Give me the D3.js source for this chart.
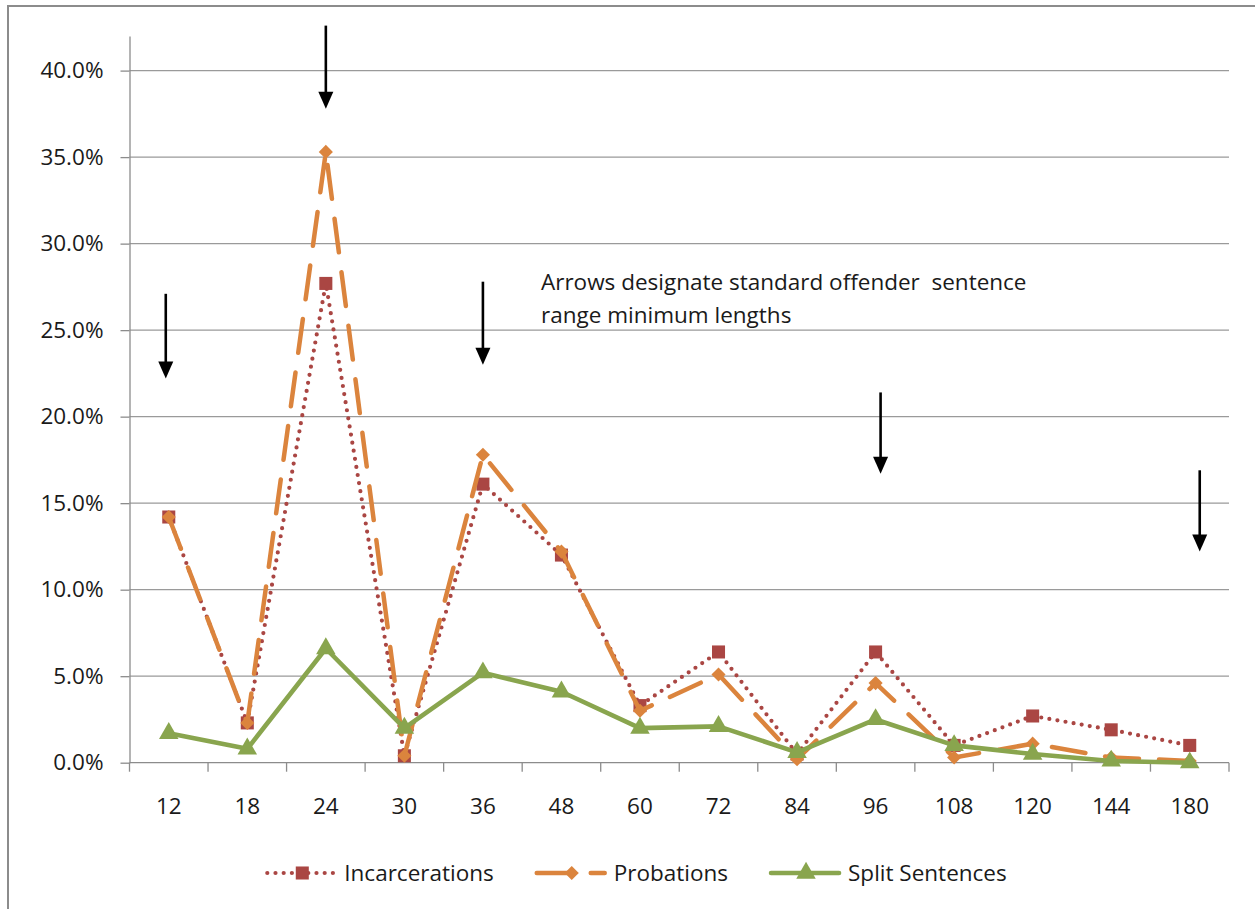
<!DOCTYPE html>
<html lang="en">
<head>
<meta charset="UTF-8">
<title>Sentence lengths</title>
<script src="https://d3js.org/d3.v7.min.js"></script>
<style>
  body { margin: 0; background: #fff; }
  text { font-family: "Open Sans", sans-serif; fill: #1a1a1a; }
</style>
</head>
<body>
<div id="chart"></div>
<script>
// months of the sentence
var months = ["12","18","24","30","36","48","60","72","84","96","108","120","144","180"];

// share of each kind of sentence
var incarcerations = [0.142,0.023,0.277,0.004,0.161,0.120,0.033,0.064,0.005,0.064,0.010,0.027,0.019,0.010];
var probations     = [0.142,0.023,0.353,0.004,0.178,0.122,0.030,0.051,0.002,0.046,0.003,0.011,0.003,0.001];
var splits         = [0.017,0.008,0.066,0.020,0.052,0.041,0.020,0.021,0.006,0.025,0.010,0.005,0.001,0.000];

var yTicks = [0,0.05,0.10,0.15,0.20,0.25,0.30,0.35,0.40];

// arrows marking standard range minimum lengths
var arrowCats = ["12","24","36","96","180"];
var arrowTop  = [0.271,0.426,0.278,0.214,0.169];
var arrowTip  = [0.222,0.378,0.230,0.167,0.122];
var arrowNudge = [-3,0,0,5,10];

var W = 1255, H = 909;
var plotL = 129.5, plotR = 1229, plotT = 36, plotB = 762.7;

var svg = d3.select("#chart").append("svg").attr("width", W).attr("height", H);

svg.append("rect").attr("x", 8).attr("y", 6).attr("width", 1300).attr("height", 1000)
  .attr("fill", "#fff").attr("stroke", "#8c8c8c").attr("stroke-width", 2);

var x = d3.scaleBand().domain(months).range([plotL, plotR]);
var y = d3.scaleLinear().domain([0, 0.42]).range([plotB, plotT]);
var cx = function(m) { return x(m) + x.bandwidth() / 2; };

// gridlines
svg.append("g").selectAll("line").data(yTicks.slice(1)).enter().append("line")
  .attr("x1", plotL).attr("x2", plotR)
  .attr("y1", function(d) { return y(d); }).attr("y2", function(d) { return y(d); })
  .attr("stroke", "#9a9a9a").attr("stroke-width", 1.3);

// y axis
var yAxis = svg.append("g").attr("transform", "translate(" + plotL + ",0)")
  .call(d3.axisLeft(y).tickValues(yTicks).tickFormat(d3.format(".1%")).tickSize(9).tickSizeOuter(0).tickPadding(17));
yAxis.selectAll("path, line").attr("stroke", "#8c8c8c").attr("stroke-width", 1.3);
yAxis.selectAll("text").attr("font-size", 22.5).attr("font-family", "Open Sans").attr("fill", "#1a1a1a");

// x axis
var xAxis = svg.append("g").attr("transform", "translate(0," + plotB + ")");
xAxis.append("line").attr("x1", plotL).attr("x2", plotR).attr("stroke", "#8c8c8c").attr("stroke-width", 1.3);
xAxis.selectAll(".tk").data(months.concat(["end"])).enter().append("line")
  .attr("class", "tk")
  .attr("x1", function(d, i) { return i < months.length ? x(d) : plotR; })
  .attr("x2", function(d, i) { return i < months.length ? x(d) : plotR; })
  .attr("y1", 0).attr("y2", 9)
  .attr("stroke", "#8c8c8c").attr("stroke-width", 1.3);
xAxis.selectAll("text").data(months).enter().append("text")
  .attr("x", function(d) { return cx(d); }).attr("y", 43)
  .attr("dy", "0.35em").attr("text-anchor", "middle").attr("font-size", 22.5)
  .text(function(d) { return d; });

// markers: square, diamond (rotated square), triangle
var square = d3.symbol().type(d3.symbolSquare).size(170)();
var diamond = d3.symbol().type(d3.symbolSquare).size(100)();
var triangle = d3.symbol().type(d3.symbolTriangle).size(165)();

var series = [
  { name: "Incarcerations", values: incarcerations, color: "#AA4643", width: 4.2, dash: "0 8.2", marker: square, rot: 0 },
  { name: "Probations", values: probations, color: "#DB843D", width: 4.5, dash: "34 20", marker: diamond, rot: 45 },
  { name: "Split Sentences", values: splits, color: "#89A54E", width: 4.6, dash: null, marker: triangle, rot: 0 }
];

var line = d3.line()
  .x(function(d, i) { return cx(months[i]); })
  .y(function(d) { return y(d); });

series.forEach(function(s) {
  var g = svg.append("g");
  g.append("path").datum(s.values)
    .attr("d", line).attr("fill", "none")
    .attr("stroke", s.color).attr("stroke-width", s.width)
    .attr("stroke-linecap", "round").attr("stroke-linejoin", "round")
    .attr("stroke-dasharray", s.dash);
  g.selectAll("path.m").data(s.values).enter().append("path")
    .attr("class", "m")
    .attr("d", s.marker)
    .attr("transform", function(d, i) { return "translate(" + cx(months[i]) + "," + y(d) + ") rotate(" + s.rot + ")"; })
    .attr("fill", s.color);
});

// arrows
var ag = svg.append("g");
arrowCats.forEach(function(m, i) {
  var ax = cx(m) + arrowNudge[i];
  var yt = y(arrowTop[i]), yp = y(arrowTip[i]);
  ag.append("line").attr("x1", ax).attr("x2", ax).attr("y1", yt).attr("y2", yp - 10)
    .attr("stroke", "#000").attr("stroke-width", 2.6);
  ag.append("path").attr("d", "M" + (ax - 7.5) + "," + (yp - 17) + "L" + (ax + 7.5) + "," + (yp - 17) + "L" + ax + "," + yp + "Z")
    .attr("fill", "#000");
});

// note
var note = svg.append("text").attr("x", 541).attr("y", 290).attr("font-size", 22.5);
note.append("tspan").attr("x", 541).text("Arrows designate standard offender\u00a0 sentence");
note.append("tspan").attr("x", 541).attr("dy", 33).text("range minimum lengths");

// legend
var lg = svg.append("g");
var cursor = 0;
series.forEach(function(s) {
  var it = lg.append("g");
  it.append("line").attr("x1", 0).attr("x2", 68)
    .attr("stroke", s.color).attr("stroke-width", s.width)
    .attr("stroke-linecap", "round").attr("stroke-dasharray", s.dash);
  it.append("path").attr("d", s.marker)
    .attr("transform", "translate(35,0) rotate(" + s.rot + ")").attr("fill", s.color);
  var t = it.append("text").attr("x", 77).attr("dy", "0.35em").attr("font-size", 22.5).text(s.name);
  var w = 77 + t.node().getComputedTextLength();
  it.attr("transform", "translate(" + cursor + ",0)");
  cursor += w + 43;
});
var total = cursor - 43;
lg.attr("transform", "translate(" + (637 - total / 2) + ",873)");
</script>
</body>
</html>
